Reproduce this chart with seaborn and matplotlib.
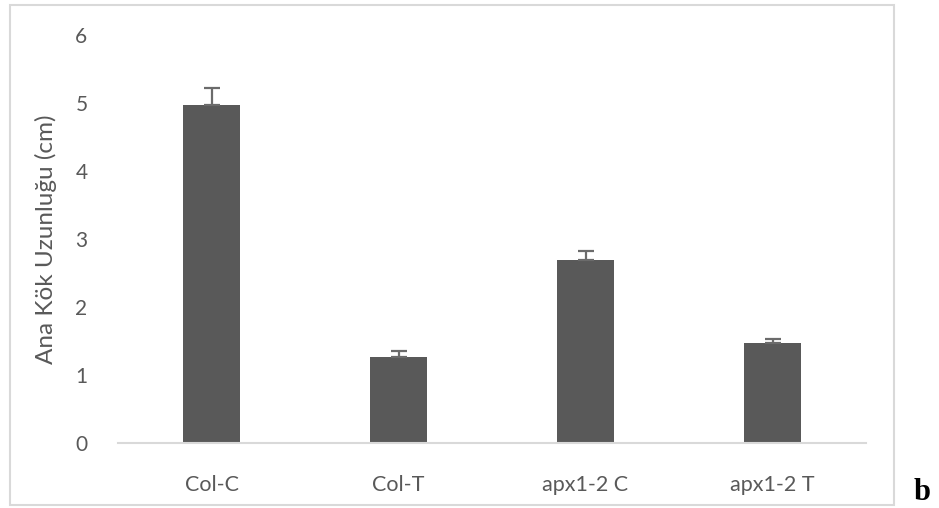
import matplotlib
matplotlib.use("Agg")
import matplotlib.pyplot as plt
import seaborn as sns
import pandas as pd
from matplotlib.patches import Rectangle

categories = ["Col-C", "Col-T", "apx1-2 C", "apx1-2 T"]
values = [4.97, 1.26, 2.69, 1.47]
errors = [0.25, 0.09, 0.13, 0.06]
y_ticks = [0, 1, 2, 3, 4, 5, 6]
y_label = "Ana Kök Uzunluğu (cm)"
panel_letter = "b"

sns.set_theme(style="white")
plt.rcParams["font.family"] = ["Lato", "DejaVu Sans"]

W, H = 939, 508
fig = plt.figure(figsize=(W / 100, H / 100), dpi=100)
ax = fig.add_axes([118 / W, (H - 443) / H, (866 - 118) / W, (443 - 35) / H])

df = pd.DataFrame({"cat": categories, "val": values})
sns.barplot(data=df, x="cat", y="val", color="#595959", saturation=1,
            width=0.31, errorbar=None, ax=ax, zorder=3)
for p in ax.patches:
    p.set_edgecolor("none")

pos = list(range(len(categories)))
ax.errorbar(pos, values, yerr=[[0] * len(values), errors], fmt="none",
            ecolor="#6b6b6b", elinewidth=1.6, capsize=6, capthick=1.6, zorder=4)

ax.set_ylim(0, 6)
ax.set_xlim(-0.5, len(categories) - 0.5)
ax.set_yticks(y_ticks)
ax.set_yticklabels([str(t) for t in y_ticks])
ax.set_xlabel("")
ax.set_ylabel(y_label, fontsize=17.5, color="#595959")
ax.yaxis.set_label_coords(-0.082, 0.5)

for s in ["top", "right", "left"]:
    ax.spines[s].set_visible(False)
ax.spines["bottom"].set_color("#d9d9d9")
ax.spines["bottom"].set_linewidth(1.5)
ax.spines["bottom"].set_zorder(5)
ax.tick_params(axis="y", length=0, pad=22, labelsize=15, labelcolor="#595959")
ax.tick_params(axis="x", length=0, pad=23, labelsize=15.5, labelcolor="#595959")
ax.grid(False)

fig.patches.append(Rectangle((10 / W, (H - 505) / H), (894 - 10) / W, (505 - 5) / H,
                             transform=fig.transFigure, fill=False,
                             edgecolor="#d9d9d9", linewidth=1.5))
fig.text(922 / W, (H - 500) / H, panel_letter, fontsize=22, fontweight="bold",
         family=["Liberation Serif", "DejaVu Serif"], ha="center", va="baseline", color="black")

fig.savefig("out.png", dpi=100)
